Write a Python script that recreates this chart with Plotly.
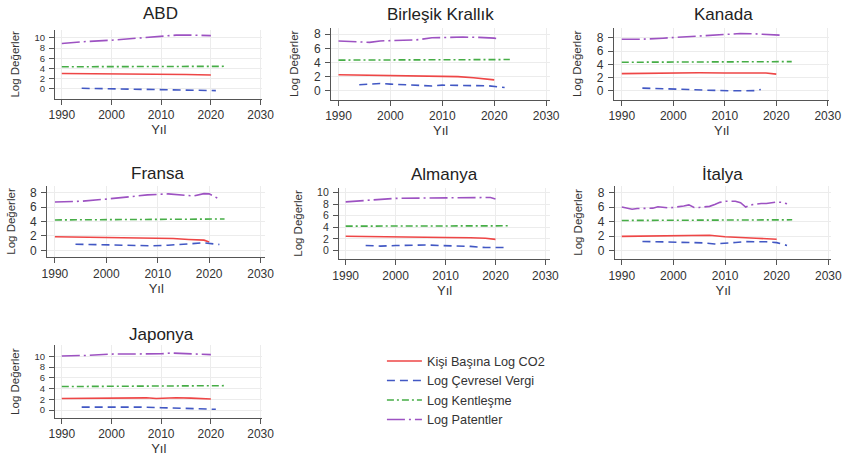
import plotly.graph_objects as go

W, H = 856, 457

SERIES = ["Kişi Başına Log CO2", "Log Çevresel Vergi", "Log Kentleşme", "Log Patentler"]
X_TICKS = [1990, 2000, 2010, 2020, 2030]

# (years, values) for each country and series
ABD_CO2 = ([1990, 1995, 2000, 2005, 2010, 2015, 2020], [3.0, 2.98, 3.0, 2.98, 2.9, 2.82, 2.72])
ABD_VERGI = ([1994, 2000, 2005, 2010, 2015, 2021], [0.1, 0.0, -0.1, -0.15, -0.2, -0.35])
ABD_KENT = ([1990, 2000, 2010, 2023], [4.33, 4.37, 4.4, 4.42])
ABD_PATENT = ([1990, 1995, 2000, 2005, 2010, 2013, 2016, 2020], [8.9, 9.3, 9.55, 9.9, 10.3, 10.55, 10.55, 10.45])

BK_CO2 = ([1990, 1995, 2000, 2005, 2010, 2013, 2016, 2020], [2.28, 2.22, 2.2, 2.18, 2.05, 2.0, 1.85, 1.55])
BK_VERGI = ([1994, 1996, 1998, 2000, 2003, 2006, 2008, 2010, 2013, 2016, 2019, 2022],
            [0.85, 0.95, 1.04, 0.95, 0.85, 0.72, 0.68, 0.8, 0.8, 0.8, 0.7, 0.47])
BK_KENT = ([1990, 2000, 2010, 2023], [4.34, 4.36, 4.39, 4.42])
BK_PATENT = ([1990, 1993, 1996, 1998, 2000, 2003, 2005, 2008, 2010, 2014, 2017, 2020, 2021],
             [7.05, 7.0, 6.85, 7.05, 7.1, 7.15, 7.2, 7.5, 7.55, 7.6, 7.55, 7.45, 7.3])

KANADA_CO2 = ([1990, 2000, 2005, 2010, 2015, 2018, 2020], [2.6, 2.72, 2.72, 2.68, 2.68, 2.68, 2.52])
KANADA_VERGI = ([1994, 1996, 1998, 2000, 2003, 2006, 2008, 2011, 2014, 2016, 2017],
                [0.4, 0.38, 0.35, 0.25, 0.2, 0.1, 0.02, 0.0, 0.0, 0.03, 0.2])
KANADA_KENT = ([1990, 2000, 2010, 2023], [4.31, 4.34, 4.38, 4.41])
KANADA_PATENT = ([1990, 1994, 1998, 2001, 2004, 2007, 2010, 2013, 2016, 2018, 2020, 2021],
                 [7.8, 7.8, 7.95, 8.1, 8.15, 8.35, 8.55, 8.65, 8.6, 8.5, 8.35, 8.4])

FRANSA_CO2 = ([1990, 1995, 2000, 2005, 2010, 2013, 2016, 2019, 2020], [1.9, 1.85, 1.85, 1.83, 1.72, 1.65, 1.52, 1.42, 1.18])
FRANSA_VERGI = ([1994, 1997, 2000, 2003, 2006, 2009, 2012, 2015, 2018, 2019, 2022],
                [0.86, 0.8, 0.77, 0.72, 0.68, 0.64, 0.72, 0.82, 0.98, 1.05, 0.82])
FRANSA_KENT = ([1990, 2000, 2010, 2023], [4.22, 4.25, 4.3, 4.35])
FRANSA_PATENT = ([1990, 1995, 2000, 2005, 2008, 2012, 2015, 2017, 2019, 2020, 2022],
                 [6.71, 6.8, 7.1, 7.45, 7.68, 7.82, 7.6, 7.54, 7.86, 7.82, 7.1])

ALMANYA_CO2 = ([1990, 1995, 2000, 2005, 2010, 2015, 2018, 2020], [2.46, 2.38, 2.34, 2.3, 2.25, 2.2, 2.12, 1.92])
ALMANYA_VERGI = ([1994, 1997, 2000, 2003, 2006, 2009, 2012, 2015, 2018, 2020, 2022],
                 [0.86, 0.75, 0.85, 0.95, 0.95, 0.85, 0.8, 0.7, 0.5, 0.48, 0.5])
ALMANYA_KENT = ([1990, 2000, 2010, 2023], [4.2, 4.22, 4.24, 4.26])
ALMANYA_PATENT = ([1990, 1995, 2000, 2005, 2010, 2015, 2018, 2019, 2020],
                  [8.4, 8.7, 9.0, 9.05, 9.08, 9.14, 9.2, 9.15, 8.9])

ITALYA_CO2 = ([1990, 1995, 2000, 2005, 2007, 2010, 2013, 2016, 2020], [1.95, 1.98, 2.02, 2.12, 2.1, 1.9, 1.75, 1.7, 1.55])
ITALYA_VERGI = ([1994, 1997, 2000, 2003, 2006, 2008, 2010, 2012, 2014, 2016, 2018, 2020, 2022],
                [1.25, 1.2, 1.12, 1.05, 1.05, 0.9, 0.95, 1.1, 1.22, 1.25, 1.2, 1.08, 0.7])
ITALYA_KENT = ([1990, 2000, 2010, 2023], [4.15, 4.17, 4.2, 4.24])
ITALYA_PATENT = (list(range(1990, 2023)),
                 [6.0, 5.85, 5.7, 5.8, 5.8, 5.8, 5.85, 6.05, 5.95, 5.9, 5.95, 6.0, 6.15, 6.3, 5.95, 5.95,
                  6.0, 6.1, 6.35, 6.65, 6.8, 6.85, 6.8, 6.6, 6.0, 6.3, 6.45, 6.5, 6.5, 6.6, 6.7, 6.65, 6.45])

JAPONYA_CO2 = ([1990, 1995, 2000, 2004, 2007, 2009, 2011, 2013, 2016, 2020], [2.15, 2.2, 2.22, 2.25, 2.28, 2.15, 2.22, 2.3, 2.22, 2.05])
JAPONYA_VERGI = ([1994, 1998, 2002, 2006, 2010, 2014, 2018, 2021], [0.55, 0.58, 0.6, 0.55, 0.45, 0.35, 0.22, 0.15])
JAPONYA_KENT = ([1990, 2000, 2005, 2010, 2023], [4.37, 4.38, 4.48, 4.52, 4.54])
JAPONYA_PATENT = ([1990, 1995, 2000, 2005, 2010, 2012, 2015, 2018, 2020], [10.05, 10.15, 10.4, 10.42, 10.45, 10.6, 10.5, 10.45, 10.3])

COUNTRIES = [
    ("ABD", [ABD_CO2, ABD_VERGI, ABD_KENT, ABD_PATENT], [0, 2, 4, 6, 8, 10]),
    ("Birleşik Krallık", [BK_CO2, BK_VERGI, BK_KENT, BK_PATENT], [0, 2, 4, 6, 8]),
    ("Kanada", [KANADA_CO2, KANADA_VERGI, KANADA_KENT, KANADA_PATENT], [0, 2, 4, 6, 8]),
    ("Fransa", [FRANSA_CO2, FRANSA_VERGI, FRANSA_KENT, FRANSA_PATENT], [0, 2, 4, 6, 8]),
    ("Almanya", [ALMANYA_CO2, ALMANYA_VERGI, ALMANYA_KENT, ALMANYA_PATENT], [0, 2, 4, 6, 8, 10]),
    ("İtalya", [ITALYA_CO2, ITALYA_VERGI, ITALYA_KENT, ITALYA_PATENT], [0, 2, 4, 6, 8]),
    ("Japonya", [JAPONYA_CO2, JAPONYA_VERGI, JAPONYA_KENT, JAPONYA_PATENT], [0, 2, 4, 6, 8, 10]),
]

# plot-area boxes in pixels (left, right, top, bottom) and axis ranges
BOXES = [(50, 262, 29, 98), (332, 556, 27, 99), (621, 841, 27, 99),
         (42, 265, 185, 257), (340, 556, 187, 259), (622, 843, 185, 259),
         (50, 262, 345, 418)]
X_RANGES = [(1988.62, 2030.39), (1988.56, 2030.8), (1988.48, 2030.3),
            (1988.48, 2030.95), (1988.63, 2030.98), (1988.67, 2030.57),
            (1988.62, 2030.39)]
Y_RANGES = [(-1.96, 11.57), (-1.27, 8.89), (-1.36, 9.5),
            (-0.97, 8.97), (-1.55, 10.86), (-1.24, 8.97),
            (-1.48, 12.04)]
TITLE_POS = [(158, 13), (444, 14), (733, 14), (155, 173), (448, 174), (732, 174), (159, 334)]
# y tick font sized to the spacing between tick labels
Y_TICK_SIZE = [9.5, 12, 12, 12, 10.5, 12, 9.5]

LINE_STYLES = [
    dict(color="#ee4646", dash="solid"),
    dict(color="#4258c4", dash="8px,5px"),
    dict(color="#46ad46", dash="7px,3px,2px,3px"),
    dict(color="#9d52c2", dash="18px,4px,2px,4px"),
]

FONT = "Liberation Sans, Arial, sans-serif"
AXIS_COLOR = "#555555"
GRID_COLOR = "#ececec"

fig = go.Figure()
layout = {}
annotations = []

for i, (name, series, yticks) in enumerate(COUNTRIES):
    k = "" if i == 0 else str(i + 1)
    for s, (years, vals) in enumerate(series):
        fig.add_trace(go.Scatter(
            x=years, y=vals, mode="lines", name=SERIES[s],
            legendgroup=SERIES[s], showlegend=(i == 0),
            line=dict(color=LINE_STYLES[s]["color"], dash=LINE_STYLES[s]["dash"], width=1.6),
            xaxis="x" + k, yaxis="y" + k,
        ))
    left, right, top, bottom = BOXES[i]
    layout["xaxis" + k] = dict(
        domain=[left / W, right / W], range=list(X_RANGES[i]), anchor="y" + k,
        tickvals=X_TICKS, ticks="outside", ticklen=5, tickcolor=AXIS_COLOR,
        showline=True, linecolor=AXIS_COLOR, linewidth=1,
        showgrid=True, gridcolor=GRID_COLOR, zeroline=False,
        tickfont=dict(size=12, color="#333333", family=FONT),
        title=dict(text="Yıl", font=dict(size=13, color="#333333", family=FONT), standoff=2),
    )
    layout["yaxis" + k] = dict(
        domain=[1 - bottom / H, 1 - top / H], range=list(Y_RANGES[i]), anchor="x" + k,
        tickvals=yticks, ticks="outside", ticklen=5, tickcolor=AXIS_COLOR,
        ticklabelstandoff=2,
        showline=True, linecolor=AXIS_COLOR, linewidth=1,
        showgrid=True, gridcolor=GRID_COLOR, zeroline=False,
        tickfont=dict(size=Y_TICK_SIZE[i], color="#333333", family=FONT),
        title=dict(text="Log Değerler", font=dict(size=11.5, color="#333333", family=FONT), standoff=12),
    )
    tx, ty = TITLE_POS[i]
    annotations.append(dict(
        text=name, x=tx / W, y=1 - ty / H, xref="paper", yref="paper",
        xanchor="center", yanchor="middle", showarrow=False,
        font=dict(size=17, color="#222222", family=FONT),
    ))

fig.update_layout(
    width=W, height=H, margin=dict(l=0, r=0, t=0, b=0),
    paper_bgcolor="white", plot_bgcolor="white",
    annotations=annotations,
    showlegend=True,
    legend=dict(
        x=384 / W, y=1 - 346 / H, xanchor="left", yanchor="top",
        font=dict(size=12.7, color="#333333", family=FONT),
        bgcolor="rgba(0,0,0,0)", borderwidth=0, tracegroupgap=0,
        itemwidth=35,
    ),
    **layout,
)

fig.write_html("out.html")
